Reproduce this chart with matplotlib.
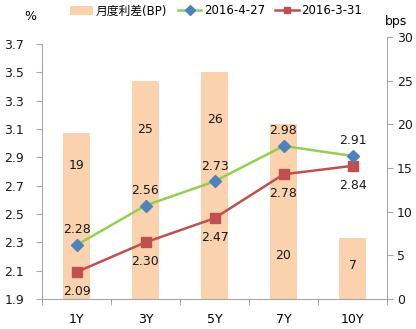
import matplotlib
matplotlib.use("Agg")
import matplotlib.pyplot as plt
import numpy as np
from matplotlib.patches import Patch
from matplotlib.lines import Line2D

plt.rcParams['font.family'] = ['DejaVu Sans', 'Noto Sans CJK SC']

categories = ["1Y", "3Y", "5Y", "7Y", "10Y"]
spread_bp = [19, 25, 26, 20, 7]
yield_0427 = [2.28, 2.56, 2.73, 2.98, 2.91]
yield_0331 = [2.09, 2.30, 2.47, 2.78, 2.84]
spread_label_y = [15.3, 19.4, 20.5, 5.0, 3.8]

bar_color = "#FAD2AE"
green = "#92D050"
blue = "#4F81BD"
red = "#C0504D"
axis_gray = "#A6A6A6"
fs = 9

fig = plt.figure(figsize=(4.16, 3.29), dpi=100)
W, H = 416, 329
x0, x1 = 42, 387
# right axis (bps) is slightly taller than the left axis (%)
ax2 = fig.add_axes([x0 / W, (H - 299) / H, (x1 - x0) / W, 262 / H])
ax1 = fig.add_axes([x0 / W, (H - 299) / H, (x1 - x0) / W, 255 / H], sharex=ax2)
ax1.patch.set_visible(False)

x = np.arange(len(categories))

# bars: monthly spread
ax2.bar(x, spread_bp, width=0.4, color=bar_color, zorder=1)
for xi, v, ly in zip(x, spread_bp, spread_label_y):
    ax2.text(xi, ly, str(v), ha="center", va="center", fontsize=fs, color="#1a1a1a")
ax2.set_ylim(0, 30)
ax2.set_yticks(range(0, 31, 5))
ax2.yaxis.tick_right()
ax2.yaxis.set_label_position("right")
for s in ["left", "top", "bottom"]:
    ax2.spines[s].set_visible(False)
ax2.spines["right"].set_color(axis_gray)
ax2.tick_params(axis="y", colors=axis_gray, labelcolor="#1a1a1a", labelsize=fs, length=4, pad=3)
ax2.tick_params(axis="x", bottom=False, labelbottom=False)

# lines: yields
ax1.plot(x, yield_0331, color=red, lw=1.8, marker="s", ms=7, mfc=red, mec=red, zorder=3)
ax1.plot(x, yield_0427, color=green, lw=1.8, marker="D", ms=6, mfc=blue, mec=blue, zorder=4)
for xi, v in zip(x, yield_0427):
    ax1.annotate(f"{v:.2f}", (xi, v), xytext=(0, 11), textcoords="offset points",
                 ha="center", va="center", fontsize=fs, color="#1a1a1a")
for xi, v in zip(x, yield_0331):
    ax1.annotate(f"{v:.2f}", (xi, v), xytext=(0, -14), textcoords="offset points",
                 ha="center", va="center", fontsize=fs, color="#1a1a1a")

ax1.set_ylim(1.9, 3.7)
ax1.set_yticks(np.round(np.arange(1.9, 3.71, 0.2), 1))
ax1.set_yticklabels([f"{t:.1f}" for t in np.arange(1.9, 3.71, 0.2)])
ax1.set_xlim(-0.5, len(categories) - 0.5)
ax1.set_xticks(x)
ax1.set_xticklabels(categories)
ax1.set_xticks(np.arange(-0.5, len(categories), 1.0), minor=True)
ax1.tick_params(axis="x", which="major", length=0, labelsize=fs, pad=10)
ax1.tick_params(axis="x", which="minor", length=4, color=axis_gray)
ax1.tick_params(axis="y", colors=axis_gray, labelcolor="#1a1a1a", labelsize=fs, length=4, pad=9)
for s in ["right", "top"]:
    ax1.spines[s].set_visible(False)
ax1.spines["left"].set_color(axis_gray)
ax1.spines["bottom"].set_color(axis_gray)

fig.text(30 / W, 1 - 17 / H, "%", ha="center", va="center", fontsize=fs)
fig.text(396 / W, 1 - 22 / H, "bps", ha="center", va="center", fontsize=fs)

handles = [
    Patch(facecolor=bar_color, edgecolor="none"),
    Line2D([], [], color=green, lw=1.8, marker="D", ms=5, mfc=blue, mec=blue),
    Line2D([], [], color=red, lw=1.8, marker="s", ms=5, mfc=red, mec=red),
]
labels = ["月度利差(BP)", "2016-4-27", "2016-3-31"]
fig.legend(handles, labels, loc="center", bbox_to_anchor=(216 / W, 1 - 11 / H),
           ncol=3, frameon=False, handlelength=2.0, columnspacing=0.9,
           handletextpad=0.2, prop={"family": ["DejaVu Sans", "Noto Sans CJK SC"], "size": 8.5})

fig.savefig("out.png", dpi=100)
